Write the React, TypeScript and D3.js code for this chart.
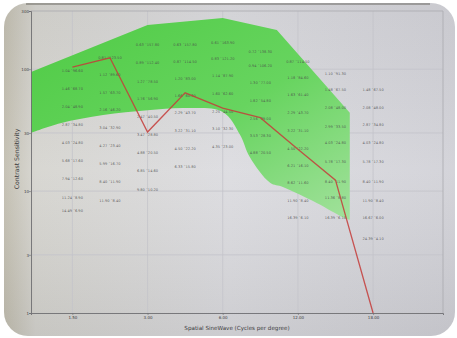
import { useEffect, useRef } from "react";
import * as d3 from "d3";

const WIDTH = 457;
const HEIGHT = 338;
const PLOT = { left: 31, right: 443, top: 11, bottom: 313 };
const FONT = "DejaVu Sans";

const AXIS_COLOR = "#6e6e72";
const GRID_COLOR = "#c4c4ca";
const LINE_COLOR = "#c43c3a";
const LABEL_COLOR = "#4a4a4a";

// x axis: tick positions and their printed labels
const X_DOMAIN = [0.45, 5.93];
const X_TICKS = [1, 2, 3, 4, 5];
const X_TICK_LABELS = ["1.50", "3.00", "6.00", "12.00", "18.00"];

// y axis (log)
const Y_DOMAIN = [1, 300];
const Y_TICKS = [1, 3, 10, 30, 100, 300];

// measured curve
const LINE_X = [1, 1.5, 2, 2.5, 3, 3.5, 4, 4.5, 5];
const LINE_Y = [104, 124, 30.5, 64, 48, 40, 22, 12.3, 1];

// normal range band
const BAND_UPPER_X = [0.45, 2, 3, 3.72, 4.69];
const BAND_UPPER_Y = [95, 230, 263, 210, 44];
const BAND_LOWER_X = [0.45, 0.84, 1.41, 2, 2.52, 3, 3.23, 3.36, 3.63, 3.8, 4.25, 4.6, 4.69];
const BAND_LOWER_Y = [30, 36, 42, 46, 48, 44.5, 29, 19, 11.7, 10.8, 8.0, 6.1, 5.8];

// test patch labels, one column per frequency
const PATCH_COLUMNS = [1, 1.5, 2, 2.5, 3, 3.5, 4, 4.5, 5];
const PATCH_VALUES = [
  [96.6, 68.7, 48.9, 34.8, 24.8, 17.6, 12.6, 8.9, 6.9],
  [123.5, 89.6, 63.7, 46.2, 32.9, 23.4, 16.7, 11.9, 8.4],
  [157.8, 112.4, 78.5, 56.9, 40.5, 28.8, 20.5, 14.6, 10.2],
  [157.8, 114.5, 83.0, 60.3, 43.7, 31.1, 22.2, 15.8],
  [163.9, 121.2, 87.9, 62.6, 44.5, 32.3, 23.0],
  [138.3, 106.2, 77.0, 54.8, 39.0, 28.3, 20.5],
  [114.5, 84.6, 61.4, 43.7, 31.1, 22.2, 16.1, 11.6, 8.4, 6.1],
  [91.3, 67.5, 48.0, 33.5, 24.8, 17.3, 11.9, 8.8, 6.1],
  [67.5, 48.0, 34.8, 24.8, 17.3, 11.9, 8.4, 6.0, 4.1],
];

export default function App() {
  const svgRef = useRef<SVGSVGElement>(null);

  useEffect(() => {
    if (!svgRef.current) return;
    const svg = d3.select(svgRef.current);
    svg.selectAll("*").remove();

    const xScale = d3.scaleLinear().domain(X_DOMAIN).range([PLOT.left, PLOT.right]);
    const yScale = d3.scaleLog().domain(Y_DOMAIN).range([PLOT.bottom, PLOT.top]);

    const defs = svg.append("defs");

    const frameGrad = defs
      .append("linearGradient")
      .attr("id", "frame")
      .attr("x1", 0)
      .attr("x2", 1)
      .attr("y1", 0)
      .attr("y2", 0);
    frameGrad.append("stop").attr("offset", 0).attr("stop-color", "#c3bfb1");
    frameGrad.append("stop").attr("offset", 0.07).attr("stop-color", "#d6d5d0");
    frameGrad.append("stop").attr("offset", 0.5).attr("stop-color", "#dcdce0");
    frameGrad.append("stop").attr("offset", 1).attr("stop-color", "#d2d2d8");

    const shadeGrad = defs
      .append("linearGradient")
      .attr("id", "shade")
      .attr("x1", 0)
      .attr("x2", 0)
      .attr("y1", 0)
      .attr("y2", 1);
    shadeGrad.append("stop").attr("offset", 0).attr("stop-color", "#000").attr("stop-opacity", 0.04);
    shadeGrad.append("stop").attr("offset", 0.5).attr("stop-color", "#fff").attr("stop-opacity", 0.05);
    shadeGrad.append("stop").attr("offset", 1).attr("stop-color", "#000").attr("stop-opacity", 0.07);

    const greenGrad = defs
      .append("linearGradient")
      .attr("id", "green")
      .attr("x1", 0)
      .attr("x2", 1)
      .attr("y1", 0)
      .attr("y2", 1);
    greenGrad.append("stop").attr("offset", 0).attr("stop-color", "#4fcb45");
    greenGrad.append("stop").attr("offset", 0.55).attr("stop-color", "#67d45f");
    greenGrad.append("stop").attr("offset", 1).attr("stop-color", "#a2e19c");

    // photo frame
    svg.append("rect").attr("width", WIDTH).attr("height", HEIGHT).attr("fill", "#ffffff");
    svg
      .append("rect")
      .attr("x", 4)
      .attr("y", 3)
      .attr("width", WIDTH - 6)
      .attr("height", HEIGHT - 5)
      .attr("rx", 24)
      .attr("fill", "url(#frame)");
    svg
      .append("rect")
      .attr("x", 4)
      .attr("y", 3)
      .attr("width", WIDTH - 6)
      .attr("height", HEIGHT - 5)
      .attr("rx", 24)
      .attr("fill", "url(#shade)");
    svg
      .append("line")
      .attr("x1", 26)
      .attr("x2", 430)
      .attr("y1", 4)
      .attr("y2", 4)
      .attr("stroke", "#55534c")
      .attr("stroke-opacity", 0.55)
      .attr("stroke-width", 1.5);

    // grid
    const grid = svg.append("g");
    grid
      .selectAll("line.v")
      .data(X_TICKS)
      .join("line")
      .attr("x1", (d) => xScale(d))
      .attr("x2", (d) => xScale(d))
      .attr("y1", PLOT.top)
      .attr("y2", PLOT.bottom)
      .attr("stroke", GRID_COLOR)
      .attr("stroke-width", 0.8);
    grid
      .selectAll("line.h")
      .data(Y_TICKS.slice(1, -1))
      .join("line")
      .attr("x1", PLOT.left)
      .attr("x2", PLOT.right)
      .attr("y1", (d) => yScale(d))
      .attr("y2", (d) => yScale(d))
      .attr("stroke", GRID_COLOR)
      .attr("stroke-width", 0.8);

    // band
    const upper = BAND_UPPER_X.map((x, i) => [xScale(x), yScale(BAND_UPPER_Y[i])] as [number, number]);
    const lower = BAND_LOWER_X.map((x, i) => [xScale(x), yScale(BAND_LOWER_Y[i])] as [number, number]).reverse();
    const upperPath = d3.line().curve(d3.curveLinear)(upper) || "";
    const lowerPath = d3.line().curve(d3.curveCatmullRom.alpha(0.5))(lower) || "";
    svg
      .append("path")
      .attr("d", upperPath + "L" + lowerPath.slice(1) + "Z")
      .attr("fill", "url(#green)");

    // frame of plot
    svg
      .append("path")
      .attr(
        "d",
        `M${PLOT.left},${PLOT.top}H${PLOT.right}V${PLOT.bottom}`
      )
      .attr("fill", "none")
      .attr("stroke", "#a9a9ae")
      .attr("stroke-width", 0.8);

    // x axis
    const xAxis = svg
      .append("g")
      .attr("transform", `translate(0,${PLOT.bottom})`)
      .call(
        d3
          .axisBottom(xScale)
          .tickValues(X_TICKS)
          .tickSize(2)
          .tickFormat((_, i) => X_TICK_LABELS[i])
      );
    xAxis.select(".domain").attr("stroke", AXIS_COLOR).attr("stroke-width", 0.9);
    xAxis.selectAll(".tick line").attr("stroke", AXIS_COLOR).attr("stroke-width", 0.6);
    xAxis
      .selectAll(".tick text")
      .attr("fill", "#3e3e42")
      .style("font-family", FONT)
      .style("font-size", "4px")
      .attr("y", 3);

    // y axis
    const yAxis = svg
      .append("g")
      .attr("transform", `translate(${PLOT.left},0)`)
      .call(
        d3
          .axisLeft(yScale)
          .tickValues(Y_TICKS)
          .tickSize(2)
          .tickFormat((d) => String(d))
      );
    yAxis.select(".domain").attr("stroke", AXIS_COLOR).attr("stroke-width", 0.9);
    yAxis.selectAll(".tick line").attr("stroke", AXIS_COLOR).attr("stroke-width", 0.6);
    yAxis
      .selectAll(".tick text")
      .attr("fill", "#3e3e42")
      .attr("x", -2)
      .style("font-family", FONT)
      .style("font-size", "4px");

    // patch labels
    const labels = svg.append("g");
    PATCH_COLUMNS.forEach((col, ci) => {
      labels
        .selectAll(`text.c${ci}`)
        .data(PATCH_VALUES[ci])
        .join("text")
        .attr("x", xScale(col))
        .attr("y", (d) => yScale(d))
        .attr("dy", "0.35em")
        .attr("text-anchor", "middle")
        .attr("fill", LABEL_COLOR)
        .attr("fill-opacity", 0.85)
        .style("font-family", FONT)
        .style("font-size", "3.6px")
        .text((d) => `${(100 / d).toFixed(2)} \u02C4${d.toFixed(2)}`);
    });

    // measured curve
    const line = d3
      .line<number>()
      .x((d) => xScale(d))
      .y((_, i) => yScale(LINE_Y[i]));
    svg
      .append("path")
      .attr("d", line(LINE_X) || "")
      .attr("fill", "none")
      .attr("stroke", LINE_COLOR)
      .attr("stroke-opacity", 0.85)
      .attr("stroke-width", 1.3);

    // axis titles
    svg
      .append("text")
      .attr("x", (PLOT.left + PLOT.right) / 2 + 0)
      .attr("y", 330)
      .attr("text-anchor", "middle")
      .attr("fill", "#3c3c40")
      .style("font-family", FONT)
      .style("font-size", "5.6px")
      .text("Spatial SineWave (Cycles per degree)");

    svg
      .append("text")
      .attr("transform", `translate(19,159) rotate(-90)`)
      .attr("text-anchor", "middle")
      .attr("fill", "#3c3c40")
      .style("font-family", FONT)
      .style("font-size", "6.2px")
      .text("Contrast Sensitivity");
  }, []);

  return (
    <svg
      ref={svgRef}
      width={WIDTH}
      height={HEIGHT}
      style={{ position: "absolute", left: 0, top: 0 }}
    />
  );
}
